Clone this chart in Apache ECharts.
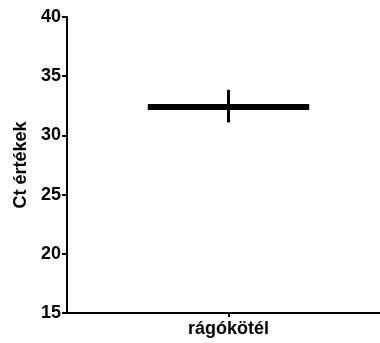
<!DOCTYPE html>
<html>
<head>
<meta charset="utf-8">
<script src="https://cdn.jsdelivr.net/npm/echarts@6/dist/echarts.min.js"></script>
<style>html,body{margin:0;padding:0;background:#fff;overflow:hidden;}#c{width:400px;height:343px;}</style>
</head>
<body>
<div id="c"></div>
<script>
const categories = ['rágókötél'];
const means = [32.4];
const errLow = [31.1];
const errHigh = [33.85];
const yTicks = [15, 20, 25, 30, 35, 40];

const chart = echarts.init(document.getElementById('c'), null, {renderer: 'canvas'});
const data = categories.map((c, i) => [i, means[i], errLow[i], errHigh[i]]);
const font = 'Liberation Sans, Arial, sans-serif';
chart.setOption({
  animation: false,
  grid: {left: 67, top: 17, bottom: 30, right: 10},
  xAxis: {
    type: 'category',
    data: categories,
    axisLine: {lineStyle: {color: '#000', width: 2}},
    axisTick: {show: true, alignWithLabel: true, length: 4, lineStyle: {color: '#000', width: 2}},
    axisLabel: {color: '#000', fontWeight: 'bold', fontSize: 18, fontFamily: font, margin: 7}
  },
  yAxis: {
    type: 'value',
    min: yTicks[0], max: yTicks[yTicks.length - 1], interval: 5,
    name: 'Ct értékek',
    nameLocation: 'middle',
    nameGap: 35,
    nameTextStyle: {color: '#000', fontWeight: 'bold', fontSize: 18, fontFamily: font},
    splitLine: {show: false},
    axisLine: {show: true, lineStyle: {color: '#000', width: 2}},
    axisTick: {show: true, length: 5, lineStyle: {color: '#000', width: 2}},
    axisLabel: {color: '#000', fontWeight: 'bold', fontSize: 18, fontFamily: font, margin: 6}
  },
  series: [{
    type: 'custom',
    data: data,
    encode: {x: 0, y: 1},
    renderItem: function (params, api) {
      const x = api.value(0);
      const c = api.coord([x, api.value(1)]);
      const lo = api.coord([x, api.value(2)]);
      const hi = api.coord([x, api.value(3)]);
      const bw = api.size([1, 0])[0];
      const hw = bw * 0.25;
      return {
        type: 'group',
        children: [
          {type: 'line', shape: {x1: c[0] - hw, y1: c[1], x2: c[0] + hw, y2: c[1]}, style: {stroke: '#000', lineWidth: 6}},
          {type: 'line', shape: {x1: lo[0], y1: lo[1], x2: hi[0], y2: hi[1]}, style: {stroke: '#000', lineWidth: 3}}
        ]
      };
    }
  }]
});
</script>
</body>
</html>
